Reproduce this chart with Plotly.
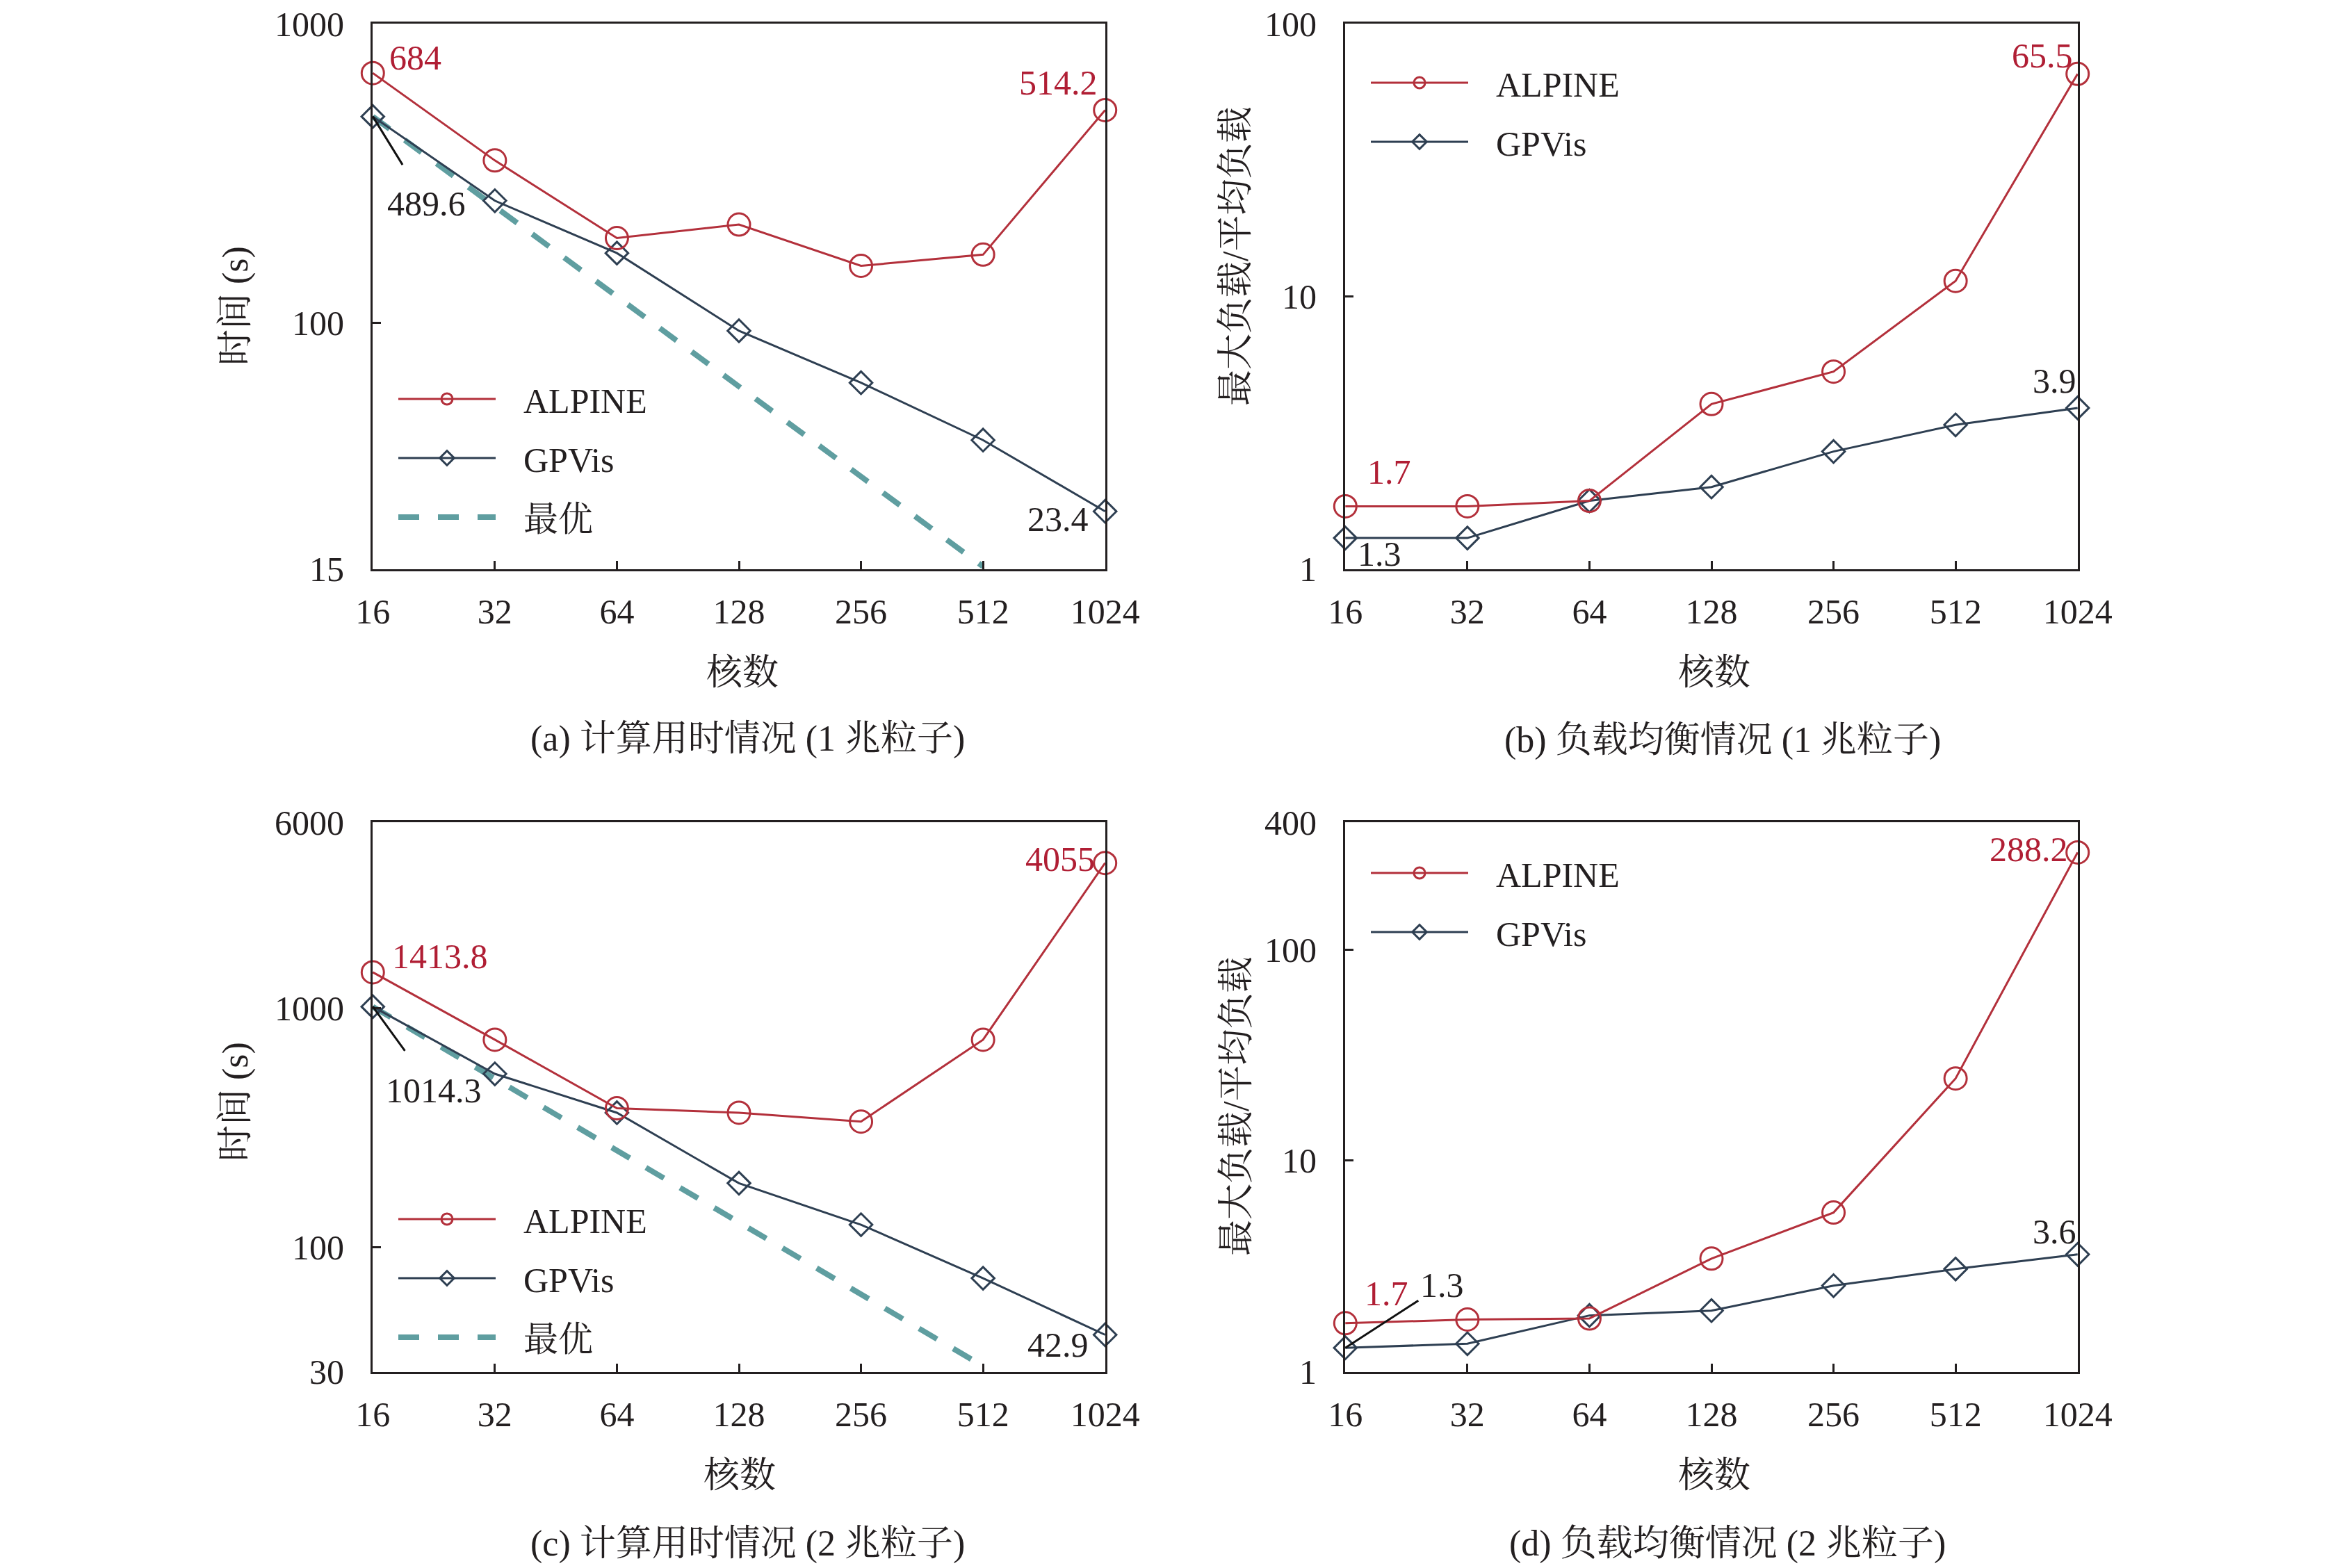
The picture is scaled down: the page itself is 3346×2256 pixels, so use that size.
import math
import plotly.graph_objects as go

# data
cores = [16, 32, 64, 128, 256, 512, 1024]
core_labels = ["16", "32", "64", "128", "256", "512", "1024"]

# (a) time, 1 trillion particles
time1_alpine = [684, 349, 192, 213, 155, 169, 514.2]
time1_gpvis = [489.6, 256, 171, 94, 63, 40.5, 23.4]
time1_best = [489.6, 244.8, 122.4, 61.2, 30.6, 15.3]

# (b) load balance, 1 trillion particles
load1_alpine = [1.7, 1.7, 1.78, 4.03, 5.3, 11.4, 65.5]
load1_gpvis = [1.3, 1.3, 1.78, 2.0, 2.7, 3.38, 3.9]

# (c) time, 2 trillion particles
time2_alpine = [1413.8, 738, 381, 365, 335, 738, 4055]
time2_gpvis = [1014.3, 531, 365, 185, 124, 74, 42.9]
time2_best = [1014.3, 507.2, 253.6, 126.8, 63.4, 31.7]

# (d) load balance, 2 trillion particles
load2_alpine = [1.7, 1.77, 1.79, 3.44, 5.68, 24.5, 288.2]
load2_gpvis = [1.3, 1.36, 1.85, 1.95, 2.56, 3.07, 3.6]

ytick_a = [15, 100, 1000]
ytick_b = [1, 10, 100]
ytick_c = [30, 100, 1000, 6000]
ytick_d = [1, 10, 100, 400]

RED = "#B3303B"
NAVY = "#2E3F52"
TEAL = "#5F9EA0"
INK = "#231F20"
FONT = "Liberation Serif, Noto Serif CJK SC, Noto Sans CJK SC, serif"
FS = 50
FS_TITLE = 52

W, H = 3346, 2256
OFF = 8  # page body margin


def px(x):
    return (x - OFF) / W


def py(y):
    return 1 - (y - OFF) / H


fig = go.Figure()

GAP = "\u2002\u2009"  # space between legend key and its label


def add_panel(n, alpine, gpvis, best):
    xa = "x" if n == 1 else f"x{n}"
    ya = "y" if n == 1 else f"y{n}"
    lg = "legend" if n == 1 else f"legend{n}"
    if best is not None:
        fig.add_trace(go.Scatter(
            x=cores[:len(best)], y=best, name=GAP + "最优", mode="lines",
            line=dict(color=TEAL, width=8, dash="30px,27px"),
            xaxis=xa, yaxis=ya, legend=lg, legendgroup=f"c{n}", legendrank=3,
            cliponaxis=False))
    fig.add_trace(go.Scatter(
        x=cores, y=gpvis, name=GAP + "GPVis", mode="lines+markers",
        line=dict(color=NAVY, width=3),
        marker=dict(symbol="diamond-open", size=25, color=NAVY, line=dict(width=3, color=NAVY)),
        xaxis=xa, yaxis=ya, legend=lg, legendgroup=f"b{n}", legendrank=2,
        cliponaxis=False))
    fig.add_trace(go.Scatter(
        x=cores, y=alpine, name=GAP + "ALPINE", mode="lines+markers",
        line=dict(color=RED, width=3),
        marker=dict(symbol="circle-open", size=32, color=RED, line=dict(width=3, color=RED)),
        xaxis=xa, yaxis=ya, legend=lg, legendgroup=f"a{n}", legendrank=1,
        cliponaxis=False))


add_panel(1, time1_alpine, time1_gpvis, time1_best)
add_panel(2, load1_alpine, load1_gpvis, None)
add_panel(3, time2_alpine, time2_gpvis, time2_best)
add_panel(4, load2_alpine, load2_gpvis, None)

xdom = {1: [px(536), px(1590)], 2: [px(1935), px(2989)],
        3: [px(536), px(1590)], 4: [px(1935), px(2989)]}
top = [py(819), py(34)]
bot = [py(1974), py(1183)]
ydom = {1: top, 2: top, 3: bot, 4: bot}
yticks = {1: ytick_a, 2: ytick_b, 3: ytick_c, 4: ytick_d}

axis_common = dict(
    showline=True, linecolor=INK, linewidth=3, mirror=True,
    ticks="inside", ticklen=12, tickwidth=3, tickcolor=INK,
    showgrid=False, zeroline=False, type="log", ticklabeloverflow="allow",
    tickfont=dict(family=FONT, size=FS, color=INK),
)

# tiny padding so the end points are not culled by floating point rounding
EPS = 0.0005

layout_axes = {}
for n in range(1, 5):
    xk = "xaxis" if n == 1 else f"xaxis{n}"
    yk = "yaxis" if n == 1 else f"yaxis{n}"
    yv = yticks[n]
    layout_axes[xk] = dict(
        axis_common, domain=xdom[n], anchor="y" if n == 1 else f"y{n}",
        range=[math.log10(cores[0]) - EPS, math.log10(cores[-1]) + EPS],
        tickvals=cores, ticktext=core_labels, ticklabelstandoff=15)
    layout_axes[yk] = dict(
        axis_common, domain=ydom[n], anchor="x" if n == 1 else f"x{n}",
        range=[math.log10(yv[0]) - EPS, math.log10(yv[-1]) + EPS],
        tickvals=yv, ticktext=[str(v) for v in yv], ticklabelstandoff=28)

fig.update_layout(**layout_axes)

# legends
leg_common = dict(font=dict(family=FONT, size=FS, color=INK), bgcolor="rgba(0,0,0,0)",
                  traceorder="grouped", tracegroupgap=17, itemwidth=140,
                  xanchor="left", yanchor="top")
fig.update_layout(
    legend=dict(leg_common, x=px(568), y=py(535)),
    legend2=dict(leg_common, x=px(1967), y=py(80)),
    legend3=dict(leg_common, x=px(568), y=py(1715)),
    legend4=dict(leg_common, x=px(1967), y=py(1217)),
)

ann = []


def tlabel(xr, yr, xv, yv, text, color, xanchor, xshift, yshift):
    ann.append(dict(xref=xr, yref=yr, x=math.log10(xv), y=math.log10(yv), text=text,
                    showarrow=False, xanchor=xanchor, yanchor="middle",
                    xshift=xshift, yshift=yshift,
                    font=dict(family=FONT, size=FS, color=color)))


def leader(xr, yr, xv, yv, text, ax, ay, pad):
    ann.append(dict(xref=xr, yref=yr, x=math.log10(xv), y=math.log10(yv), text=text,
                    showarrow=True, arrowhead=0, arrowwidth=3, arrowcolor="#111111",
                    ax=ax, ay=ay, borderpad=pad, standoff=0,
                    font=dict(family=FONT, size=FS, color=INK)))


LRED = "#B01E34"
# (a)
tlabel("x", "y", cores[0], time1_alpine[0], "684", LRED, "left", 22, 22)
tlabel("x", "y", cores[-1], time1_alpine[-1], "514.2", LRED, "right", -9, 39)
leader("x", "y", cores[0], time1_gpvis[0], "489.6", 77, 125, 27)
tlabel("x", "y", cores[-1], time1_gpvis[-1], "23.4", INK, "right", -22, -11)
# (b)
tlabel("x2", "y2", cores[0], load1_alpine[0], "1.7", LRED, "left", 30, 49)
tlabel("x2", "y2", cores[0], load1_gpvis[0], "1.3", INK, "left", 16, -23)
tlabel("x2", "y2", cores[-1], load1_alpine[-1], "65.5", LRED, "right", -5, 26)
tlabel("x2", "y2", cores[-1], load1_gpvis[-1], "3.9", INK, "right", 0, 39)
# (c)
tlabel("x3", "y3", cores[0], time2_alpine[0], "1413.8", LRED, "left", 26, 23)
leader("x3", "y3", cores[0], time2_gpvis[0], "1014.3", 88, 121, 29)
tlabel("x3", "y3", cores[-1], time2_alpine[-1], "4055", LRED, "right", -13, 6)
tlabel("x3", "y3", cores[-1], time2_gpvis[-1], "42.9", INK, "right", -22, -15)
# (d)
tlabel("x4", "y4", cores[0], load2_alpine[0], "1.7", LRED, "left", 26, 43)
leader("x4", "y4", cores[0], load2_gpvis[0], "1.3", 139, -90, 2)
tlabel("x4", "y4", cores[-1], load2_alpine[-1], "288.2", LRED, "right", -12, 4)
tlabel("x4", "y4", cores[-1], load2_gpvis[-1], "3.6", INK, "right", 0, 33)


def ptext(x, y, text, angle=0):
    ann.append(dict(xref="paper", yref="paper", x=px(x), y=py(y), text=text,
                    showarrow=False, xanchor="center", yanchor="middle", textangle=angle,
                    font=dict(family=FONT, size=FS_TITLE, color=INK)))


ptext(339, 440, "时间 (s)", -90)
ptext(339, 1585, "时间 (s)", -90)
ptext(1778, 369, "最大负载/平均负载", -90)
ptext(1778, 1592, "最大负载/平均负载", -90)
ptext(1068, 968, "核数")
ptext(2466, 968, "核数")
ptext(1064, 2122, "核数")
ptext(2466, 2122, "核数")
ptext(1075, 1063, "(a) 计算用时情况 (1 兆粒子)")
ptext(2478, 1065, "(b) 负载均衡情况 (1 兆粒子)")
ptext(1075, 2221, "(c) 计算用时情况 (2 兆粒子)")
ptext(2485, 2221, "(d) 负载均衡情况 (2 兆粒子)")

fig.update_layout(
    annotations=ann,
    width=W, height=H,
    margin=dict(l=0, r=0, t=0, b=0, autoexpand=False),
    paper_bgcolor="white", plot_bgcolor="white",
    font=dict(family=FONT, size=FS, color=INK),
)

fig.write_html("out.html")
